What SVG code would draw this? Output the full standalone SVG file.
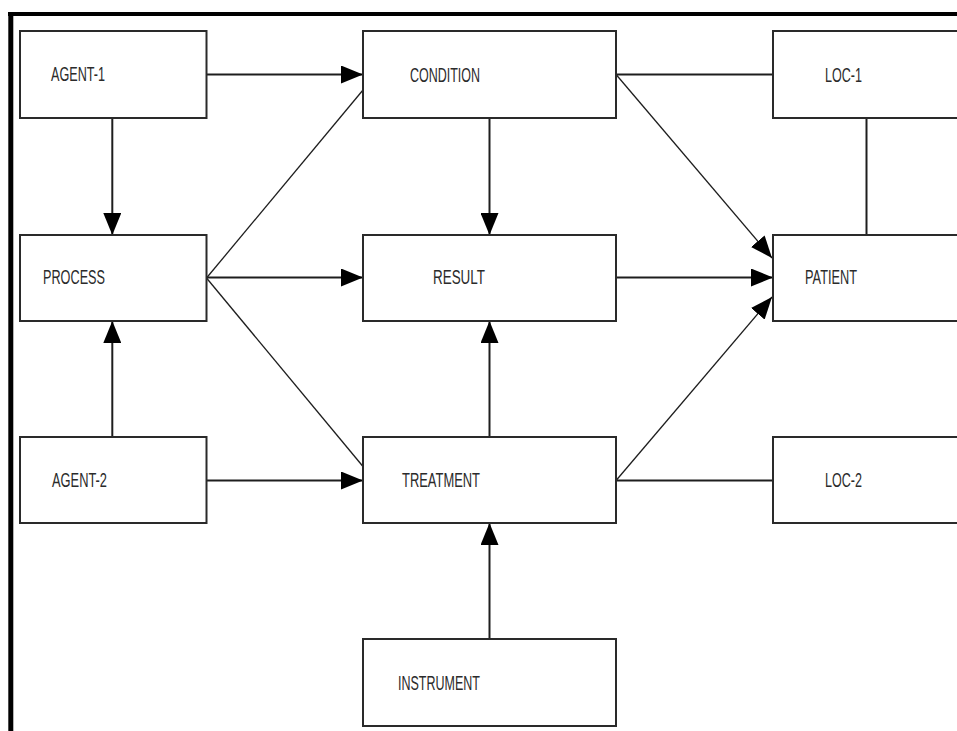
<svg xmlns="http://www.w3.org/2000/svg" width="957" height="731" viewBox="0 0 957 731">
  <style>
    .box { fill: #ffffff; stroke: #2a2a2a; stroke-width: 2; }
    .lbl { font-family: "Liberation Sans", Arial, sans-serif; font-size: 20px; fill: #2b2b2b; }
    .ln { fill: none; stroke: #1e1e1e; stroke-width: 2; }
    .diag { fill: none; stroke: #1e1e1e; stroke-width: 1.3; }
    .frame { stroke: #000000; fill: none; }
  </style>
  <defs>
    <marker id="tri" viewBox="0 0 22 18" refX="22" refY="9" markerWidth="22" markerHeight="18" markerUnits="userSpaceOnUse" orient="auto">
      <path d="M0,0 L22,9 L0,18 Z" fill="#000000"/>
    </marker>
  </defs>

  <rect x="0" y="0" width="957" height="731" fill="#ffffff"/>

  <!-- outer frame: top and left rules -->
  <g id="frame">
    <line class="frame" x1="8" y1="14" x2="957" y2="14" stroke-width="4"/>
    <line class="frame" x1="10.8" y1="12" x2="10.8" y2="731" stroke-width="5"/>
  </g>

  <!-- connectors -->
  <g id="connectors">
    <line class="ln" x1="206.5" y1="74.5" x2="363" y2="74.5" marker-end="url(#tri)"/>
    <line class="ln" x1="112.3" y1="118" x2="112.3" y2="235" marker-end="url(#tri)"/>
    <line class="diag" x1="206.5" y1="278" x2="363" y2="90"/>
    <line class="ln" x1="206.5" y1="277.5" x2="363" y2="277.5" marker-end="url(#tri)"/>
    <line class="diag" x1="206.5" y1="278" x2="363" y2="466.5"/>
    <line class="ln" x1="112.3" y1="437" x2="112.3" y2="321" marker-end="url(#tri)"/>
    <line class="ln" x1="206.5" y1="480.5" x2="363" y2="480.5" marker-end="url(#tri)"/>
    <line class="ln" x1="489.5" y1="118" x2="489.5" y2="235" marker-end="url(#tri)"/>
    <line class="ln" x1="489.5" y1="437" x2="489.5" y2="321" marker-end="url(#tri)"/>
    <line class="ln" x1="489.5" y1="639" x2="489.5" y2="523" marker-end="url(#tri)"/>
    <line class="ln" x1="616" y1="74.5" x2="773" y2="74.5"/>
    <line class="diag" x1="616.5" y1="75" x2="772" y2="258" marker-end="url(#tri)"/>
    <line class="ln" x1="616" y1="277.5" x2="773" y2="277.5" marker-end="url(#tri)"/>
    <line class="diag" x1="616.5" y1="480" x2="772" y2="297" marker-end="url(#tri)"/>
    <line class="ln" x1="866.5" y1="118" x2="866.5" y2="235"/>
    <line class="ln" x1="616" y1="480.5" x2="773" y2="480.5"/>
  </g>

  <g id="agent1">
    <rect class="box" x="20" y="31" width="186.5" height="87"/>
    <text class="lbl" x="51" y="81" textLength="54" lengthAdjust="spacingAndGlyphs">AGENT-1</text>
  </g>
  <g id="condition">
    <rect class="box" x="363" y="31" width="253" height="87"/>
    <text class="lbl" x="410" y="82" textLength="70" lengthAdjust="spacingAndGlyphs">CONDITION</text>
  </g>
  <g id="loc1">
    <rect class="box" x="773" y="31" width="200" height="87"/>
    <text class="lbl" x="825" y="82" textLength="37" lengthAdjust="spacingAndGlyphs">LOC-1</text>
  </g>
  <g id="process">
    <rect class="box" x="20" y="235" width="186.5" height="86"/>
    <text class="lbl" x="43" y="284" textLength="62" lengthAdjust="spacingAndGlyphs">PROCESS</text>
  </g>
  <g id="result">
    <rect class="box" x="363" y="235" width="253" height="86"/>
    <text class="lbl" x="433" y="284" textLength="52" lengthAdjust="spacingAndGlyphs">RESULT</text>
  </g>
  <g id="patient">
    <rect class="box" x="773" y="235" width="200" height="86"/>
    <text class="lbl" x="805" y="284" textLength="52" lengthAdjust="spacingAndGlyphs">PATIENT</text>
  </g>
  <g id="agent2">
    <rect class="box" x="20" y="437" width="186.5" height="86"/>
    <text class="lbl" x="52" y="487" textLength="55" lengthAdjust="spacingAndGlyphs">AGENT-2</text>
  </g>
  <g id="treatment">
    <rect class="box" x="363" y="437" width="253" height="86"/>
    <text class="lbl" x="402" y="487" textLength="78" lengthAdjust="spacingAndGlyphs">TREATMENT</text>
  </g>
  <g id="loc2">
    <rect class="box" x="773" y="437" width="200" height="86"/>
    <text class="lbl" x="825" y="487" textLength="37" lengthAdjust="spacingAndGlyphs">LOC-2</text>
  </g>
  <g id="instrument">
    <rect class="box" x="363" y="639" width="253" height="87"/>
    <text class="lbl" x="398" y="690" textLength="82" lengthAdjust="spacingAndGlyphs">INSTRUMENT</text>
  </g>
</svg>
